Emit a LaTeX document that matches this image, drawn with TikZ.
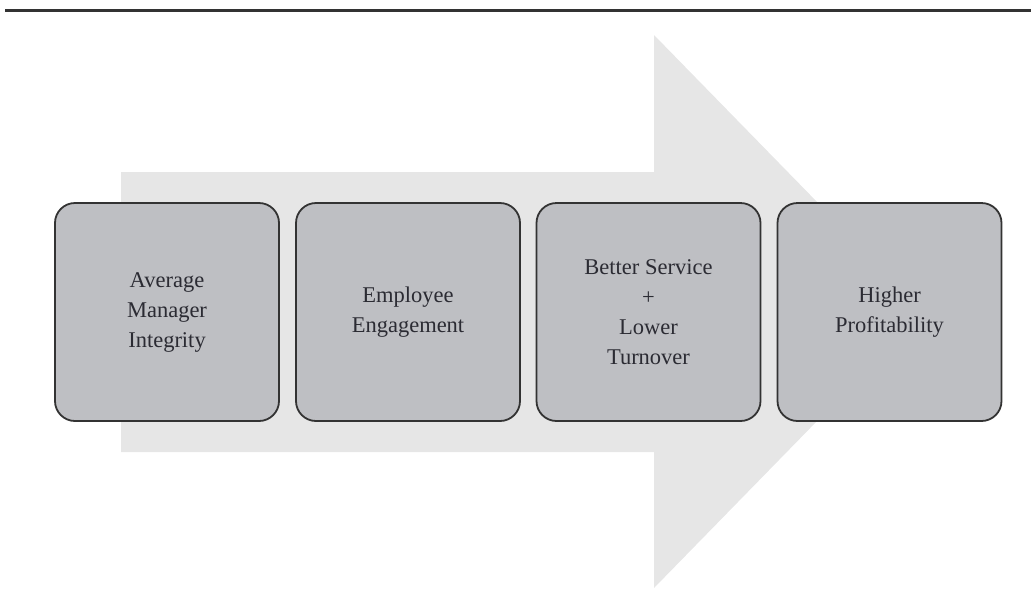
\documentclass[tikz,border=0pt]{standalone}
\usepackage{fontspec}
\setmainfont{Liberation Serif}
\definecolor{arrowgrey}{HTML}{E6E6E6}
\definecolor{boxgrey}{HTML}{BEBFC3}
\definecolor{edgegrey}{HTML}{333333}
\definecolor{textgrey}{HTML}{2B2B33}
\begin{document}
\begin{tikzpicture}[x=1pt,y=-1pt,
  stage/.style={draw=edgegrey, line width=1.8pt, fill=boxgrey, rounded corners=20pt,
    minimum width=224pt, minimum height=218pt, inner sep=0pt, align=center,
    text=textgrey, font=\fontsize{22.5}{30}\selectfont}]
\useasboundingbox (0,0) rectangle (1031,611);
\draw[edgegrey, line width=3pt] (5,10) -- (1031,10);
\fill[arrowgrey] (121,172) -- (654,172) -- (654,35) -- (924,311.5) -- (654,588) -- (654,452) -- (121,452) -- cycle;
\node[stage] (s1) at (167,312) {Average\\Manager\\Integrity};
\node[stage] (s2) at (408,312) {Employee\\Engagement};
\node[stage] (s3) at (648.5,312) {Better Service\\+\\Lower\\Turnover};
\node[stage] (s4) at (889.5,312) {Higher\\Profitability};
\end{tikzpicture}
\end{document}
